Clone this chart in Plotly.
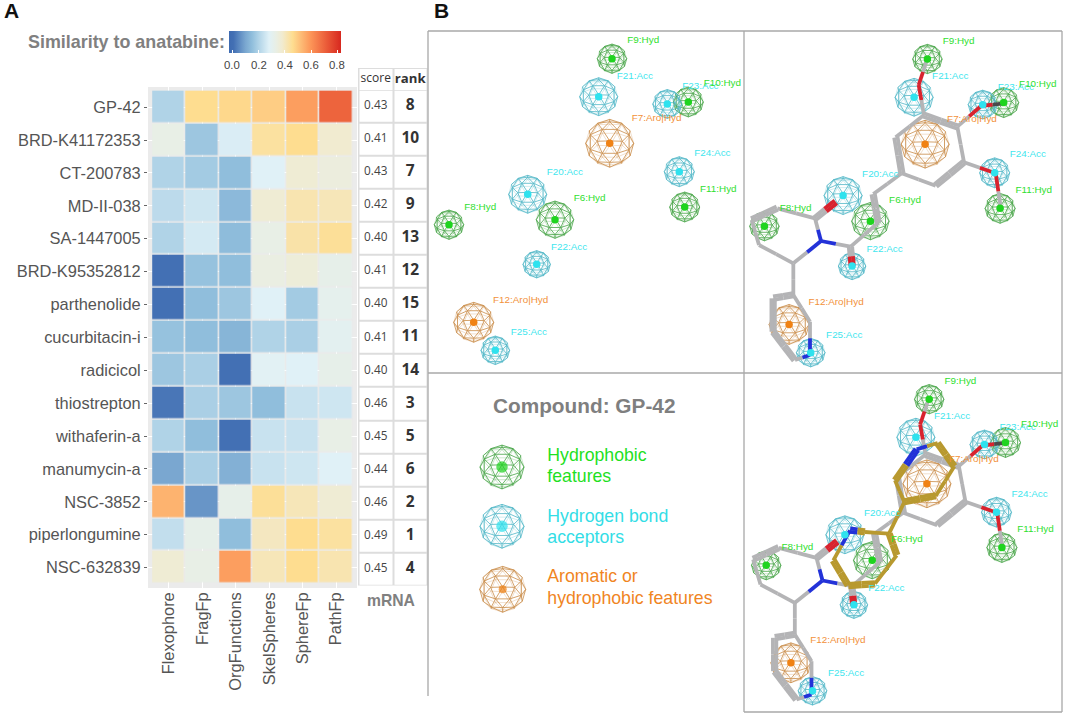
import numpy as np
import plotly.graph_objects as go

W, H = 1065, 716

# ---------- panel A data ----------
compounds = ["GP-42", "BRD-K41172353", "CT-200783", "MD-II-038", "SA-1447005", "BRD-K95352812",
             "parthenolide", "cucurbitacin-i", "radicicol", "thiostrepton", "withaferin-a",
             "manumycin-a", "NSC-3852", "piperlongumine", "NSC-632839"]
methods = ["Flexophore", "FragFp", "OrgFunctions", "SkelSpheres", "SphereFp", "PathFp"]
flexophore = [.20, .33, .20, .22, .20, .01, .01, .16, .17, .02, .20, .10, .54, .23, .37]
fragfp = [.46, .17, .18, .25, .26, .16, .15, .15, .19, .19, .15, .19, .07, .32, .33]
orgfunctions = [.47, .27, .15, .14, .145, .15, .17, .13, .01, .17, .01, .12, .32, .15, .58]
skelspheres = [.49, .44, .28, .37, .33, .34, .28, .20, .29, .15, .24, .24, .45, .40, .41]
spherefp = [.58, .46, .37, .42, .43, .36, .18, .19, .28, .24, .24, .25, .41, .46, .46]
pathfp = [.70, .38, .35, .41, .45, .32, .31, .30, .32, .25, .33, .28, .37, .44, .42]
scores = ["0.43", "0.41", "0.43", "0.42", "0.40", "0.41", "0.40", "0.41", "0.40", "0.46", "0.45", "0.44", "0.46", "0.49", "0.45"]
ranks = [8, 10, 7, 9, 13, 12, 15, 11, 14, 3, 5, 6, 2, 1, 4]
table_cols = ["score", "rank"]
bar_ticks = [0.0, 0.2, 0.4, 0.6, 0.8]
zmin, zmax = -0.025, 0.828
scale_stops = [(-0.025, "#3e6bb1"), (0.01, "#4370b4"), (0.1, "#7aa7d0"), (0.15, "#90bedc"), (0.2, "#b0d3e7"),
               (0.28, "#e0f1f7"), (0.33, "#e8efe6"), (0.38, "#f1ebd0"), (0.46, "#fedd90"), (0.6, "#fc9457"),
               (0.72, "#ea5a38"), (0.828, "#d7281f")]

# ---------- panel B data (positions read in the image) ----------
feat_names = ["F9:Hyd", "F21:Acc", "F23:Acc", "F10:Hyd", "F7:Aro|Hyd", "F24:Acc", "F11:Hyd",
              "F20:Acc", "F6:Hyd", "F8:Hyd", "F22:Acc", "F12:Aro|Hyd", "F25:Acc"]
feat_kind = ["H", "A", "A", "H", "R", "A", "H", "A", "H", "H", "A", "R", "A"]
feat_x = [612, 598.7, 667.3, 688.3, 609.7, 679.3, 684.7, 527.7, 555, 449, 536.7, 473.7, 495.3]
feat_y = [58.7, 96.7, 104, 102, 143.3, 171.7, 207, 194.3, 219.7, 224.7, 264.3, 322.3, 350.3]
feat_r = [14.7, 19, 14.5, 15, 24, 15, 15, 19, 18.7, 14.7, 13.7, 20, 14.3]
label_x = [627.3, 616.7, 682.3, 703.7, 631.7, 694.3, 700, 546.7, 573.7, 464.3, 551, 493, 510.7]
label_y = [41, 76.3, 86.7, 84, 118.7, 154, 189.3, 173, 199, 207.3, 247.7, 300.3, 333]

ligand_atoms = {
    "a1": (537, 285, "C"), "a2": (637, 320, "C"), "a3": (657, 427, "C"), "a4": (572, 497, "C"),
    "a5": (470, 460, "C"), "a6": (452, 352, "C"), "o1": (521, 195, "O"), "m1": (547, 117, "C"),
    "o2": (708, 258, "O"), "m2": (778, 250, "D"), "o3": (752, 460, "O"), "m3": (768, 567, "C"),
    "v1": (385, 522, "C"), "v2": (400, 608, "C"), "c1": (317, 680, "C"), "o4": (322, 738, "O"),
    "n1": (228, 663, "N"), "c2": (210, 595, "C"), "o5": (272, 545, "O"), "p3": (97, 565, "C"),
    "p4": (20, 600, "C"), "p5": (42, 675, "C"), "p6": (145, 730, "C"), "i1": (145, 825, "C"),
    "i2": (85, 835, "C"), "i3": (85, 935, "C"), "i4": (150, 1020, "C"), "n2": (195, 1005, "N"),
    "i5": (195, 905, "C")}
ligand_bonds = [("a1", "a2", 2), ("a2", "a3", 1), ("a3", "a4", 2), ("a4", "a5", 1), ("a5", "a6", 2), ("a6", "a1", 1),
                ("a1", "o1", 1), ("o1", "m1", 1), ("a2", "o2", 1), ("o2", "m2", 1), ("a3", "o3", 1), ("o3", "m3", 1),
                ("a5", "v1", 1), ("v1", "v2", 2), ("v2", "c1", 1), ("c1", "o4", 2), ("c1", "n1", 1), ("n1", "c2", 1),
                ("c2", "o5", 2), ("c2", "p3", 1), ("p3", "p4", 2), ("p4", "p5", 1), ("p5", "p6", 1), ("p6", "n1", 1),
                ("p6", "i1", 1), ("i1", "i2", 2), ("i2", "i3", 2), ("i3", "i4", 2), ("i4", "n2", 1), ("n2", "i5", 1), ("i5", "i1", 1)]
gold_atoms = {
    "g1": (515, 232, "N"), "g2": (578, 213, "C"), "g3": (628, 283, "C"), "g4": (572, 372, "C"),
    "g5": (478, 390, "C"), "g6": (450, 325, "C"), "g7": (432, 485, "C"), "g8": (360, 480, "C"),
    "g9": (315, 475, "N"), "g10": (265, 565, "C"), "g11": (310, 640, "C"), "g12": (390, 635, "C"), "g13": (455, 550, "C")}
gold_bonds = [("g1", "g2", 1), ("g2", "g3", 2), ("g3", "g4", 1), ("g4", "g5", 2), ("g5", "g6", 1), ("g6", "g1", 2),
              ("g5", "g7", 1), ("g7", "g8", 1), ("g8", "g9", 2), ("g9", "g10", 1), ("g10", "g11", 2),
              ("g11", "g12", 2), ("g12", "g13", 1), ("g13", "g7", 2)]

KIND_WIRE = {"H": "#47a547", "A": "#4fb6c6", "R": "#c98c48"}
KIND_BACK = {"H": "rgba(71,165,71,0.45)", "A": "rgba(79,182,198,0.45)", "R": "rgba(201,140,72,0.45)"}
KIND_BALL = {"H": "#1fd41f", "A": "#2fe2ee", "R": "#f08214"}
KIND_TEXT = {"H": "#2fe02f", "A": "#3fe6ee", "R": "#f2913a"}
legend_lines = [("Hydrophobic", 456.3, "#1fe01f"), ("features", 477.7, "#1fe01f"),
                ("Hydrogen bond", 517.5, "#33dde6"), ("acceptors", 539, "#33dde6"),
                ("Aromatic or", 578, "#f0851f"), ("hydrophobic features", 599.5, "#f0851f")]
legend_x = [502, 502, 502.7]
legend_y = [467, 526.3, 589.3]
legend_r = [22, 22, 23]
legend_ball = [11.5, 11.5, 8]
legend_kind = ["H", "A", "R"]


def dom(a, b, size):
    return [a / size, b / size]


def ydom(top, bottom):
    return [1 - bottom / H, 1 - top / H]


colorscale = [[(v - zmin) / (zmax - zmin), c] for v, c in scale_stops]
matrix = np.array([flexophore, fragfp, orgfunctions, skelspheres, spherefp, pathfp]).T

fig = go.Figure()
fig.add_trace(go.Heatmap(z=matrix, x=methods, y=compounds, xaxis="x", yaxis="y", zmin=zmin, zmax=zmax,
                         colorscale=colorscale, xgap=1.5, ygap=1.5, hoverinfo="skip",
                         colorbar=dict(orientation="h", x=229 / W, xanchor="left", y=1 - 31 / H, yanchor="top",
                                       lenmode="pixels", len=112, thickness=22, thicknessmode="pixels",
                                       xpad=0, ypad=0, outlinewidth=0, tickvals=bar_ticks,
                                       showticklabels=False, ticks="inside", ticklen=3,
                                       tickcolor="white", tickwidth=1)))

# score / rank table
white = [[0, "white"], [1, "white"]]
fig.add_trace(go.Heatmap(z=[[0, 0] for _ in compounds], x=table_cols, y=compounds, xaxis="x2", yaxis="y2",
                         colorscale=white, showscale=False, xgap=2, ygap=2, hoverinfo="skip"))
fig.add_trace(go.Heatmap(z=[[0, 0]], x=table_cols, y=["head"], xaxis="x3", yaxis="y3",
                         colorscale=white, showscale=False, xgap=2, ygap=2, hoverinfo="skip"))
fig.add_trace(go.Scatter(x=["score"] * len(compounds), y=compounds, xaxis="x2", yaxis="y2", mode="text", text=scores,
                         textfont=dict(family="Open Sans", size=11.8, color="#444444"), hoverinfo="skip"))
fig.add_trace(go.Scatter(x=["rank"] * len(compounds), y=compounds, xaxis="x2", yaxis="y2", mode="text",
                         text=[f"<b>{r}</b>" for r in ranks],
                         textfont=dict(family="Open Sans", size=15.5, color="#333333"), hoverinfo="skip"))
fig.add_trace(go.Scatter(x=table_cols, y=["head", "head"], xaxis="x3", yaxis="y3", mode="text",
                         text=["score", "<b>rank</b>"],
                         textfont=dict(family="Open Sans", size=[12, 13.2], color="#333333"), hoverinfo="skip"))


# ---------- panel B helpers ----------
def icosphere_edges():
    p = (1 + 5 ** .5) / 2
    v = np.array([[-1, p, 0], [1, p, 0], [-1, -p, 0], [1, -p, 0], [0, -1, p], [0, 1, p], [0, -1, -p], [0, 1, -p],
                  [p, 0, -1], [p, 0, 1], [-p, 0, -1], [-p, 0, 1]], float)
    v /= np.linalg.norm(v, axis=1)[:, None]
    faces = [(0, 11, 5), (0, 5, 1), (0, 1, 7), (0, 7, 10), (0, 10, 11), (1, 5, 9), (5, 11, 4), (11, 10, 2), (10, 7, 6),
             (7, 1, 8), (3, 9, 4), (3, 4, 2), (3, 2, 6), (3, 6, 8), (3, 8, 9), (4, 9, 5), (2, 4, 11), (6, 2, 10),
             (8, 6, 7), (9, 8, 1)]
    verts = list(map(tuple, v))
    cache = {}

    def mid(i, j):
        k = (min(i, j), max(i, j))
        if k not in cache:
            m = np.array(verts[i]) + np.array(verts[j])
            verts.append(tuple(m / np.linalg.norm(m)))
            cache[k] = len(verts) - 1
        return cache[k]

    edges = set()
    for a, b, c in faces:
        ab, bc, ca = mid(a, b), mid(b, c), mid(c, a)
        for t in [(a, ab, ca), (b, bc, ab), (c, ca, bc), (ab, bc, ca)]:
            for i in range(3):
                e = (t[i], t[(i + 1) % 3])
                edges.add((min(e), max(e)))
    verts = np.array(verts)
    ang = np.pi / 2 + 0.1
    rot = np.array([[1, 0, 0], [0, np.cos(ang), -np.sin(ang)], [0, np.sin(ang), np.cos(ang)]])
    return verts @ rot.T, sorted(edges)


SPH_V, SPH_E = icosphere_edges()


def add_wires(xs, ys, rs, kinds):
    for kind in "HAR":
        for front in (False, True):
            lx, ly = [], []
            for x, y, r, k in zip(xs, ys, rs, kinds):
                if k != kind:
                    continue
                for i, j in SPH_E:
                    if ((SPH_V[i, 2] + SPH_V[j, 2]) >= -0.02) != front:
                        continue
                    lx += [x + r * SPH_V[i, 0], x + r * SPH_V[j, 0], None]
                    ly += [y + r * SPH_V[i, 1], y + r * SPH_V[j, 1], None]
            fig.add_trace(go.Scatter(x=lx, y=ly, xaxis="x4", yaxis="y4", mode="lines", hoverinfo="skip",
                                     line=dict(color=KIND_WIRE[kind] if front else KIND_BACK[kind],
                                               width=0.8 if front else 0.6)))


def add_balls(xs, ys, kinds, sizes):
    fig.add_trace(go.Scatter(x=xs, y=ys, xaxis="x4", yaxis="y4", mode="markers", hoverinfo="skip",
                             marker=dict(size=sizes, color=[KIND_BALL[k] for k in kinds], line=dict(width=0))))


def add_labels(xs, ys, names, kinds):
    fig.add_trace(go.Scatter(x=xs, y=ys, xaxis="x4", yaxis="y4", mode="text", text=names, textposition="middle right",
                             hoverinfo="skip",
                             textfont=dict(family="Liberation Sans", size=9.9, color=[KIND_TEXT[k] for k in kinds])))


def add_molecule(atoms, bonds, place, palette, width):
    segs = {}
    for a, b, order in bonds:
        xa, ya, ea = atoms[a]
        xb, yb, eb = atoms[b]
        pa, pb = np.array(place(xa, ya)), np.array(place(xb, yb))
        d = pb - pa
        n = np.array([-d[1], d[0]]) / max(np.linalg.norm(d), 1e-6)
        offs = [0.0] if order == 1 else [-1.5, 1.9]
        for o in offs:
            s, e = pa + n * o, pb + n * o
            m = (s + e) / 2
            segs.setdefault(palette[ea], []).append((s, m))
            segs.setdefault(palette[eb], []).append((m, e))
    for col, items in segs.items():
        lx, ly = [], []
        for s, e in items:
            lx += [s[0], e[0], None]
            ly += [s[1], e[1], None]
        fig.add_trace(go.Scatter(x=lx, y=ly, xaxis="x4", yaxis="y4", mode="lines", hoverinfo="skip",
                                 line=dict(color=col, width=width)))


# frame
frame_x = [428, 428, None, 428, 1062, None, 744, 744, None, 428, 1062, None, 1062, 1062, None, 744, 1062]
frame_y = [31, 696, None, 31, 31, None, 31, 712, None, 373, 373, None, 31, 712, None, 712, 712]
fig.add_trace(go.Scatter(x=frame_x, y=frame_y, xaxis="x4", yaxis="y4", mode="lines", hoverinfo="skip",
                         line=dict(color="#a8a8a8", width=1.3)))

fx, fy, lx, ly = map(np.array, (feat_x, feat_y, label_x, label_y))

# left top panel: features only
add_wires(fx, fy, feat_r, feat_kind)
add_balls(fx, fy, feat_kind, 7.5)
add_labels(lx, ly, feat_names, feat_kind)

GRAY = {"C": "#b4b4b6", "O": "#d8232e", "N": "#2332d8", "D": "#4a4a4a"}
GOLD = {"C": "#b8992f", "O": "#d8232e", "N": "#2332d8"}


def p2y(y):
    return y * 1.007 - 0.1


# right top panel
add_wires(fx + 315.4, p2y(fy), feat_r, feat_kind)
add_molecule(ligand_atoms, ligand_bonds, lambda a, b: (745 + a / 3, 20 + b / 3), GRAY, 3.8)
add_balls(fx + 315.4, p2y(fy), feat_kind, 7.5)
add_labels(lx + 315.4, p2y(ly), feat_names, feat_kind)

# right bottom panel
add_wires(fx + 317.2, fy + 340.5, feat_r, feat_kind)
add_molecule(ligand_atoms, ligand_bonds, lambda a, b: (745 + a / 3 + 1.5, 20 + b / 3 + 339.5), GRAY, 3.8)
add_molecule(gold_atoms, gold_bonds, lambda a, b: (745 + a / 3, 372 + b / 3), GOLD, 3.8)
add_balls(fx + 317.2, fy + 340.5, feat_kind, 7.5)
add_labels(lx + 317.2, ly + 340.5, feat_names, feat_kind)

# legend spheres and text
add_wires(legend_x, legend_y, legend_r, legend_kind)
add_balls(legend_x, legend_y, legend_kind, legend_ball)
for txt, y, col in legend_lines:
    fig.add_trace(go.Scatter(x=[547.3], y=[y], xaxis="x4", yaxis="y4", mode="text", text=[txt], hoverinfo="skip",
                             textposition="middle right",
                             textfont=dict(family="Liberation Sans", size=17.7, color=col)))
fig.add_trace(go.Scatter(x=[584.2], y=[407.7], xaxis="x4", yaxis="y4", mode="text", text=["<b>Compound: GP-42</b>"],
                         hoverinfo="skip", textfont=dict(family="Liberation Sans", size=20.8, color="#7f7f7f")))


def px_rect(x0, y0, x1, y1, color):
    return dict(type="rect", xref="paper", yref="paper", x0=x0 / W, x1=x1 / W, y0=1 - y1 / H, y1=1 - y0 / H,
                fillcolor=color, line=dict(width=0), layer="below")


def note(text, x, y, size, color, anchor="left"):
    return dict(text=text, xref="paper", yref="paper", x=x / W, y=1 - y / H, xanchor=anchor, yanchor="middle",
                showarrow=False, font=dict(family="Liberation Sans", size=size, color=color))


tick_font = dict(family="Liberation Sans", size=16.4, color="#555555")
hidden = dict(visible=False, showgrid=False, zeroline=False)

bar_notes = [note(f"{t:.1f}", 232.3 + 131 * t, 65, 11.4, "#444444", "center") for t in bar_ticks]

fig.update_layout(
    width=W, height=H, autosize=False, margin=dict(l=0, r=0, t=0, b=0), showlegend=False,
    paper_bgcolor="white", plot_bgcolor="rgba(0,0,0,0)", hovermode=False,
    shapes=[px_rect(148, 87, 357, 588, "#ebebeb"),
            px_rect(358, 68, 427.5, 90.7, "#dddddd"),
            px_rect(358, 89.5, 427.5, 585.5, "#dddddd")],
    annotations=[note("<b>A</b>", 1.5, 10.5, 21, "#111111"), note("<b>B</b>", 431.5, 10.5, 21, "#111111"),
                 note("<b>Similarity to anatabine:</b>", 25.5, 42, 17.9, "#808080"),
                 note("<b>mRNA</b>", 391, 600, 15.7, "#808080", "center")] + bar_notes,
    xaxis=dict(domain=dom(148, 357, W), anchor="y", type="category", range=[-0.626, 5.626], side="bottom",
               showgrid=True, gridcolor="white", gridwidth=1, ticks="", tickangle=-90, tickfont=tick_font,
               showline=False, zeroline=False, fixedrange=True),
    yaxis=dict(domain=ydom(87, 588), anchor="x", type="category", range=[14.62, -0.612],
               showgrid=True, gridcolor="white", gridwidth=1, ticks="outside", ticklen=3, tickcolor="#666666",
               tickfont=tick_font, showline=False, zeroline=False, fixedrange=True),
    xaxis2=dict(domain=dom(358.5, 427.5, W), anchor="y2", type="category", range=[-0.5, 1.5], **hidden),
    yaxis2=dict(domain=ydom(89.7, 585.5), anchor="x2", type="category", range=[14.5, -0.5], **hidden),
    xaxis3=dict(domain=dom(358.5, 427.5, W), anchor="y3", type="category", range=[-0.5, 1.5], **hidden),
    yaxis3=dict(domain=ydom(68, 90.7), anchor="x3", type="category", range=[0.5, -0.5], **hidden),
    xaxis4=dict(domain=[0, 1], anchor="y4", range=[0, W], **hidden),
    yaxis4=dict(domain=[0, 1], anchor="x4", range=[H, 0], **hidden),
)

fig.write_html("out.html", config={"displayModeBar": False},
               post_script="document.body.style.margin='0';document.body.style.overflow='hidden';")
